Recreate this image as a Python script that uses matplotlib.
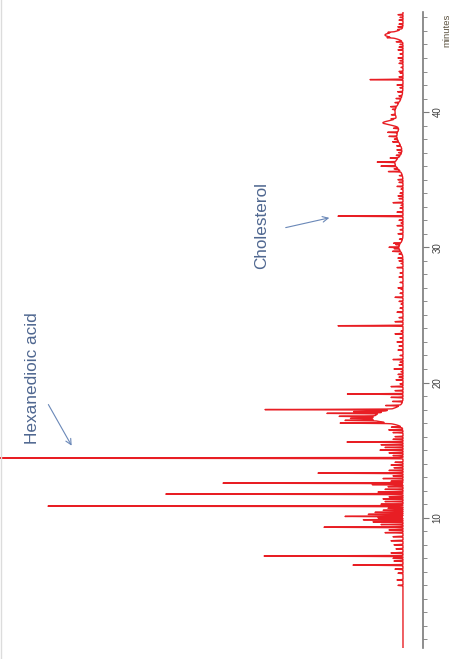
import numpy as np
import matplotlib.pyplot as plt
from matplotlib.lines import Line2D

plt.rcParams["font.family"] = ["Liberation Sans", "DejaVu Sans"]

# major peaks: retention time (min) and abundance
peak_times = [6.5, 7.17, 9.3, 10.1, 10.86, 11.75, 12.56, 13.3, 14.41, 15.6,
              17.0, 17.72, 18.0, 19.15, 24.2, 32.3, 42.4]
peak_heights = [50, 140, 79, 58, 355, 239, 180, 85, 440, 56,
                48, 52, 125, 56, 65, 65, 33]

# small peaks riding on the baseline
minor_times = [5.0, 5.4, 5.9, 6.2, 6.8, 7.0, 7.4, 7.7, 8.0, 8.3, 8.6, 8.9, 9.1,
               9.5, 9.7, 9.85, 10.0, 10.25, 10.4, 10.55, 10.7, 11.0, 11.2, 11.4,
               11.55, 11.9, 12.1, 12.3, 12.45, 12.7, 12.9, 13.1, 13.5, 13.7,
               13.9, 14.1, 14.6, 14.8, 15.0, 15.2, 15.4, 15.8, 16.0, 16.3, 16.5,
               16.7, 17.2, 17.35, 17.5, 17.85, 18.3, 18.6, 18.9, 19.4, 19.7,
               20.2, 20.6, 21.0, 21.7, 22.4, 23.0, 23.6, 24.5, 25.2, 26.3, 27.0,
               27.8, 28.5, 29.2, 29.7, 30.0, 30.3, 31.0, 31.6, 32.6, 33.3, 33.8,
               34.5, 35.0, 35.6, 36.0, 36.3, 36.6, 37.2, 37.8, 38.2, 38.5, 40.4,
               41.0, 41.5, 42.0, 43.0, 44.0, 44.6, 45.2, 46.3, 46.8, 47.2]
minor_heights = [5, 6, 5, 8, 9, 10, 12, 7, 9, 12, 10, 18, 14,
                 22, 30, 40, 25, 35, 28, 20, 15, 22, 18, 20,
                 14, 25, 18, 15, 31, 12, 20, 10, 14, 9,
                 12, 8, 10, 14, 23, 18, 22, 10, 8, 10, 14,
                 10, 30, 22, 35, 30, 14, 10, 12, 8, 12,
                 7, 5, 9, 10, 5, 6, 8, 8, 6, 8, 5,
                 4, 6, 5, 8, 10, 7, 5, 6, 6, 10, 5,
                 6, 5, 12, 15, 18, 8, 5, 6, 8, 10, 6,
                 5, 5, 6, 4, 5, 5, 6, 5, 4, 5]

# baseline chatter between the named peaks
chatter_times = [19.9, 20.4, 20.8, 21.3, 21.5, 22.0, 22.7, 23.3, 23.8, 24.8,
                 25.5, 25.8, 26.0, 26.6, 26.9, 27.4, 28.1, 28.8, 29.0, 29.5,
                 29.9, 30.2, 30.6, 31.3, 31.8, 32.0, 32.9, 33.1, 33.6, 34.0,
                 34.3, 34.8, 35.3, 35.8, 36.8, 37.0, 37.5, 38.0, 38.8, 39.5,
                 39.8, 40.2, 40.7, 41.2, 41.8, 42.6, 42.9, 43.3, 43.6, 43.8,
                 44.3, 44.8, 45.0, 45.5, 45.9, 46.1, 46.5, 47.0]
chatter_heights = [3, 4, 2, 4, 3, 3, 4, 3, 2, 4,
                   3, 2, 4, 3, 2, 3, 3, 2, 4, 3,
                   5, 4, 3, 3, 2, 4, 3, 2, 4, 3,
                   2, 4, 3, 4, 4, 3, 4, 3, 5, 4,
                   4, 3, 4, 3, 3, 4, 3, 2, 4, 3,
                   3, 4, 3, 5, 4, 3, 4, 3]

# broad humps: centre, height, width (min)
hump_times = [17.6, 17.2, 30.0, 36.2, 38.2, 40.0, 39.2, 45.7]
hump_heights = [25, 15, 4, 8, 6, 8, 16, 18]
hump_widths = [0.35, 0.2, 0.3, 0.4, 0.5, 0.6, 0.15, 0.2]

t = np.arange(0.4, 47.45, 0.004)
signal = np.zeros_like(t)
for c, h in zip(peak_times + minor_times + chatter_times,
                peak_heights + minor_heights + chatter_heights):
    signal += h * np.exp(-0.5 * ((t - c) / 0.016) ** 2)
for c, h, w in zip(hump_times, hump_heights, hump_widths):
    signal += h * np.exp(-0.5 * ((t - c) / w) ** 2)

fig = plt.figure(figsize=(4.51, 6.59), dpi=100)
ax = fig.add_axes([0.0, 11 / 659, 423 / 451, 636 / 659])

# chromatogram drawn sideways: time runs up, abundance grows to the left
ax.plot(signal, t, color="#e81e24", lw=1.0)
ax.set_xlim(403, -20)
ax.set_ylim(0.37, 47.4)

for s in ["left", "top", "bottom"]:
    ax.spines[s].set_visible(False)
ax.spines["right"].set_color("#7a7a7a")
ax.spines["right"].set_linewidth(1.2)
ax.set_xticks([])
ax.yaxis.tick_right()
ax.set_yticks([10, 20, 30, 40])
ax.set_yticks(np.arange(1, 48), minor=True)
ax.tick_params(axis="y", which="major", length=4, color="#7a7a7a", pad=3,
               labelsize=7, labelcolor="#404040", labelrotation=90)
ax.tick_params(axis="y", which="minor", length=3, color="#7a7a7a")
for lab in ax.get_yticklabels():
    lab.set_verticalalignment("center")

fig.text(447 / 451, 1 - 30 / 659, "minutes", rotation=90, fontsize=6.8,
         color="#5c5240", ha="center", va="center")


def px(x, y):
    # pixel position on the page -> data coordinates
    return 403 - x, (653 - y) / 13.53


blue = "#4f6790"
arrow = dict(arrowstyle="->", color="#6a88b8", lw=0.8)
ax.text(*px(33, 378), "Hexanedioic acid", rotation=90, fontsize=12.4,
        color=blue, ha="center", va="center")
ax.annotate("", xy=px(73, 448), xytext=px(47, 402), arrowprops=arrow)
ax.text(*px(262, 225), "Cholesterol", rotation=90, fontsize=12.3,
        color=blue, ha="center", va="center")
ax.annotate("", xy=px(332, 217), xytext=px(283, 228), arrowprops=arrow)

fig.add_artist(Line2D([0.003, 0.003], [0, 1], color="#dcdcdc", lw=1))

fig.savefig("out.png", dpi=100)
